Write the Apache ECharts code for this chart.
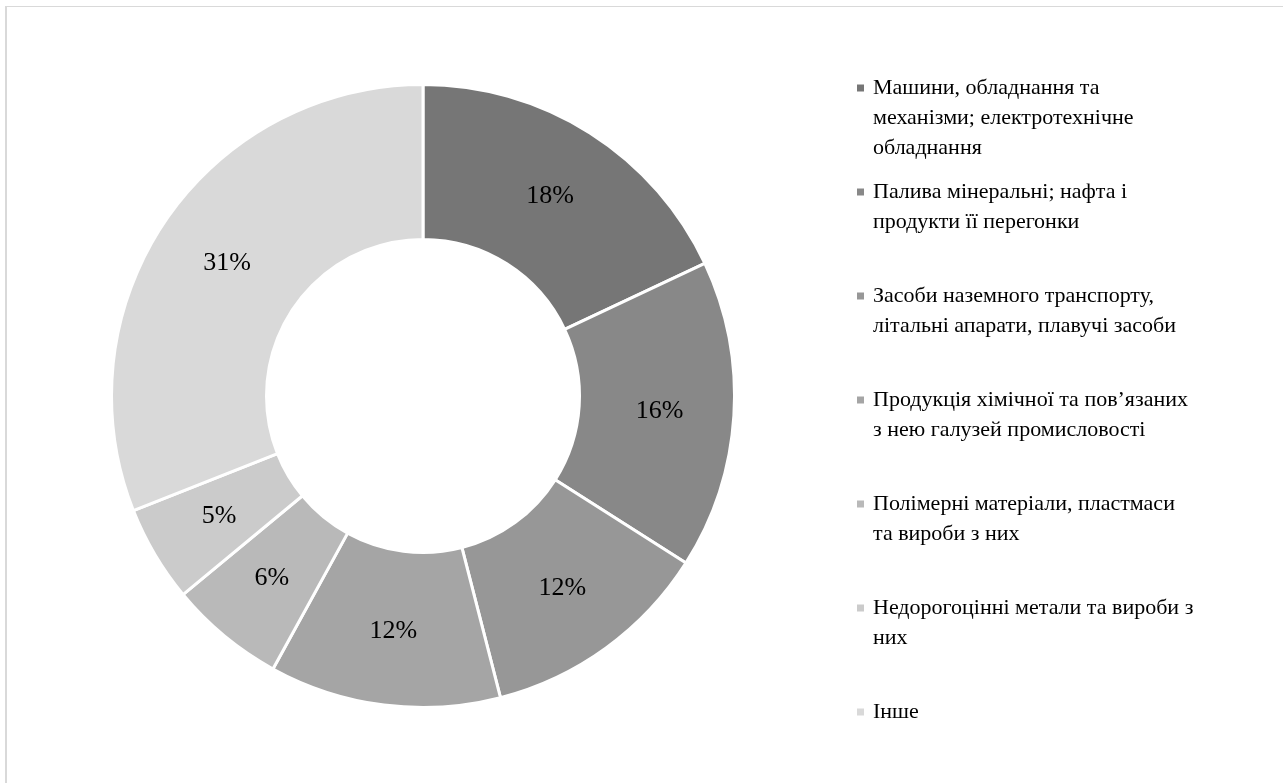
<!DOCTYPE html>
<html>
<head>
<meta charset="utf-8">
<script src="https://cdn.jsdelivr.net/npm/echarts@6/dist/echarts.min.js"></script>
<style>
  html, body { margin: 0; padding: 0; background: #ffffff; }
  #frame { position: absolute; left: 5px; top: 6px; width: 2000px; height: 2000px;
           border-top: 1px solid #d9d9d9; border-left: 2px solid #d9d9d9; }
  #chart { position: absolute; left: 0; top: 0; width: 1283px; height: 783px; }
</style>
</head>
<body>
<div id="frame"></div>
<div id="chart"></div>
<script>
// ---- data ----
const legendLines = [
  ["Машини, обладнання та", "механізми; електротехнічне", "обладнання"],
  ["Палива мінеральні; нафта і", "продукти її перегонки"],
  ["Засоби наземного транспорту,", "літальні апарати, плавучі засоби"],
  ["Продукція хімічної та пов’язаних", "з нею галузей промисловості"],
  ["Полімерні матеріали, пластмаси", "та вироби з них"],
  ["Недорогоцінні метали та вироби з", "них"],
  ["Інше"]
];
const categories = legendLines.map(l => l.join(" "));
const values = [18, 16, 12, 12, 6, 5, 31];

// ---- styles ----
const colors = ["#767676", "#888888", "#979797", "#a5a5a5", "#b9b9b9", "#cbcbcb", "#d9d9d9"];
const FONT = "'Liberation Serif', 'Times New Roman', serif";

const rich = { g: { width: 9, lineHeight: 30 }, i: { width: 16, lineHeight: 30 } };
colors.forEach((c, k) => {
  rich["m" + k] = { width: 7, height: 7, backgroundColor: c, lineHeight: 30 };
});

const chart = echarts.init(document.getElementById("chart"), null, { renderer: "canvas" });
chart.setOption({
  animation: false,
  backgroundColor: "transparent",
  color: colors,
  legend: {
    orient: "vertical",
    left: 851,
    top: 73,
    height: 700,
    padding: 0,
    itemGap: 14,
    itemWidth: 0,
    itemHeight: 0,
    itemStyle: { opacity: 0 },
    selectedMode: false,
    data: categories,
    formatter: function (name) {
      const k = categories.indexOf(name);
      const lines = legendLines[k].slice();
      if (k < categories.length - 1) { while (lines.length < 3) lines.push(""); }
      let s = "{m" + k + "|}{g|}" + lines[0];
      for (let j = 1; j < lines.length; j++) s += "\n{i|}" + lines[j];
      return s;
    },
    textStyle: {
      fontFamily: FONT,
      fontSize: 22,
      lineHeight: 30,
      color: "#000000",
      rich: rich
    }
  },
  series: [{
    type: "pie",
    center: [423, 396],
    radius: [156.5, 311.5],
    startAngle: 90,
    clockwise: true,
    avoidLabelOverlap: false,
    emphasis: { disabled: true },
    itemStyle: { borderColor: "#ffffff", borderWidth: 3 },
    label: {
      show: true,
      position: "inside",
      formatter: "{c}%",
      fontFamily: FONT,
      fontSize: 26,
      color: "#000000"
    },
    labelLine: { show: false },
    data: categories.map((n, k) => ({ name: n, value: values[k] }))
  }]
});
</script>
</body>
</html>
